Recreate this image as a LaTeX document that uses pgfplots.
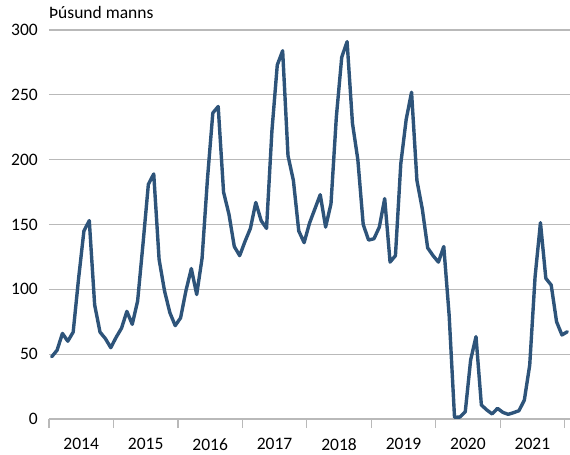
\documentclass[border=0pt]{standalone}
\usepackage{pgfplots}
\pgfplotsset{compat=1.18}
\usepackage{fontspec}
\setmainfont{Carlito}
\definecolor{lc}{RGB}{46,84,122}
\definecolor{gc}{RGB}{185,185,185}
\begin{document}
\begin{tikzpicture}[font=\fontsize{17.5bp}{20bp}\selectfont]
\begin{axis}[
  scale only axis,
  width=521bp, height=389bp,
  xmin=0, xmax=97, ymin=0, ymax=300,
  axis x line=bottom,
  axis y line=left,
  y axis line style={draw=none},
  x axis line style={-, draw=gc, line width=1.2bp},
  ytick={0,50,...,300},
  xtick={6,18,...,90},
  xticklabels={2014,2015,2016,2017,2018,2019,2020,2021},
  minor xtick={0,12,...,96},
  major tick length=0pt,
  minor tick length=9bp,
  tick align=outside,
  minor x tick style={draw=gc, line width=1.2bp},
  ytick style={draw=none},
  ymajorgrids=true,
  grid style={draw=gc, line width=1.2bp},
  /pgf/number format/assume math mode=true,
  yticklabel style={anchor=east, inner sep=0pt, xshift=-11bp},
  xticklabel style={anchor=north, inner sep=0pt, yshift=-19bp},
  clip=false,
]
\addplot[lc, line width=3.4bp, line join=round, line cap=round] table {
x y
0.5 48
1.5 53
2.5 66
3.5 60
4.5 67
5.5 108
6.5 145
7.5 153
8.5 88
9.5 67
10.5 62
11.5 55
12.5 63
13.5 70
14.5 83
15.5 73
16.5 91
17.5 135
18.5 181
19.5 189
20.5 123
21.5 99
22.5 82
23.5 72
24.5 78
25.5 99
26.5 116
27.5 96
28.5 124
29.5 185
30.5 236
31.5 241
32.5 175
33.5 158
34.5 133
35.5 126
36.5 137
37.5 147
38.5 167
39.5 153
40.5 147
41.5 222
42.5 273
43.5 284
44.5 203
45.5 184
46.5 145
47.5 136
48.5 151
49.5 162
50.5 173
51.5 148
52.5 166
53.5 233
54.5 279
55.5 291
56.5 228
57.5 200
58.5 150
59.5 138
60.5 139
61.5 148
62.5 170
63.5 121
64.5 126
65.5 197
66.5 231
67.5 252
68.5 184
69.5 162
70.5 132
71.5 126
72.5 121
73.5 133
74.5 80
75.5 1.3
76.5 1.5
77.5 5.6
78.5 45.5
79.5 63.5
80.5 10.8
81.5 7
82.5 3.9
83.5 8.2
84.5 5.1
85.5 3.6
86.5 4.9
87.5 6.4
88.5 14.6
89.5 41.6
90.5 109.7
91.5 151.4
92.5 108.5
93.5 103.3
94.5 75
95.5 64.8
96.5 67.3
};
\node[anchor=base west, inner sep=0pt, yshift=11bp] at (rel axis cs:0,1) {Þúsund manns};
\end{axis}
\pgfresetboundingbox
\path[use as bounding box] ([xshift=-49bp,yshift=-36bp]current axis.south west) rectangle ([yshift=30bp]current axis.north east);
\end{tikzpicture}
\end{document}
